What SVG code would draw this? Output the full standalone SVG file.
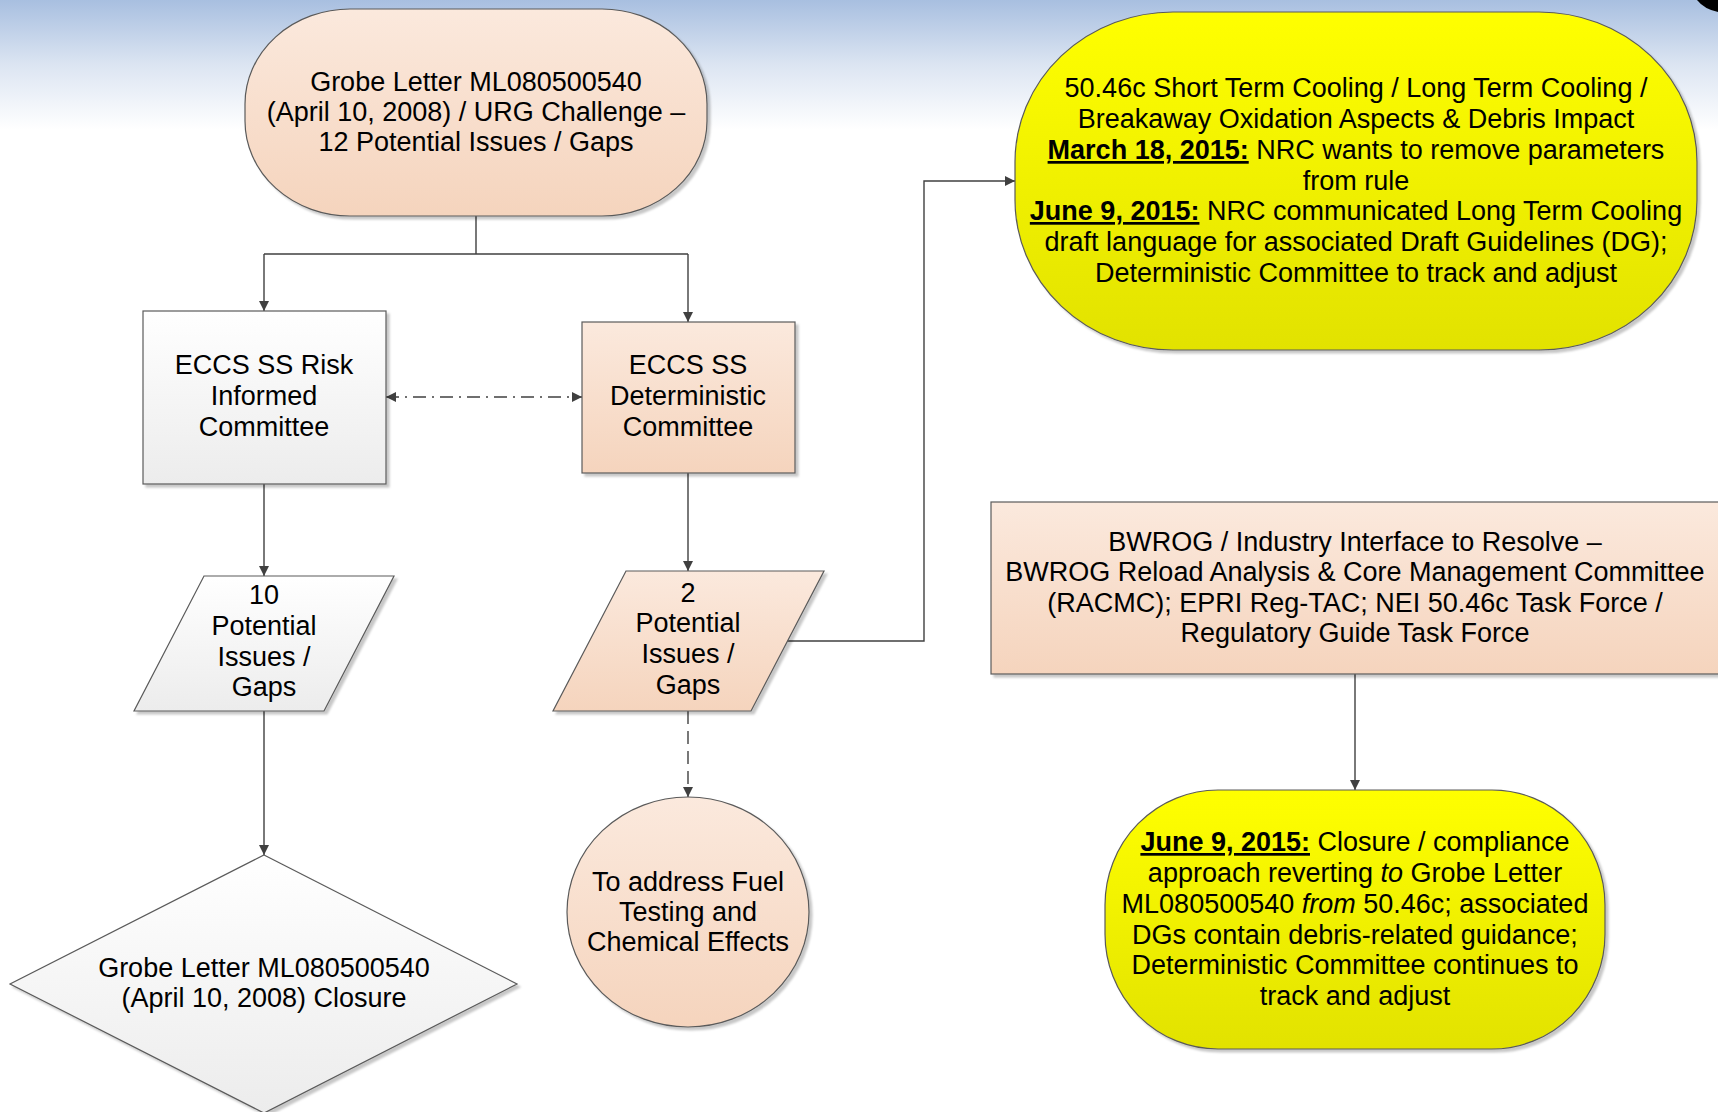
<svg xmlns="http://www.w3.org/2000/svg" width="1718" height="1112" viewBox="0 0 1718 1112">
<defs>
<linearGradient id="bg" x1="0" y1="0" x2="0" y2="1">
<stop offset="0" stop-color="#A8BFE0"/>
<stop offset="0.5" stop-color="#DCE5F2"/>
<stop offset="1" stop-color="#FFFFFF"/>
</linearGradient>
<linearGradient id="peach" x1="0" y1="0" x2="0" y2="1">
<stop offset="0" stop-color="#FBE9DD"/>
<stop offset="1" stop-color="#F5D4BD"/>
</linearGradient>
<linearGradient id="gray" x1="0" y1="0" x2="0" y2="1">
<stop offset="0" stop-color="#FFFFFF"/>
<stop offset="1" stop-color="#ECECEC"/>
</linearGradient>
<linearGradient id="yellow" x1="0" y1="0" x2="0" y2="1">
<stop offset="0" stop-color="#FFFF00"/>
<stop offset="1" stop-color="#E2E200"/>
</linearGradient>
<filter id="sh" x="-5%" y="-5%" width="115%" height="115%">
<feDropShadow dx="3" dy="3" stdDeviation="1.2" flood-color="#000" flood-opacity="0.22"/>
</filter>
<marker id="ah" viewBox="0 0 10 10" refX="10" refY="5" markerWidth="11" markerHeight="10" markerUnits="userSpaceOnUse" orient="auto-start-reverse">
<path d="M0,0 L10,5 L0,10 Z" fill="#404040"/>
</marker>
<style>
.shape{stroke:#5A5A5A;stroke-width:1.2;filter:url(#sh)}
.pe{fill:url(#peach)}
.gr{fill:url(#gray)}
.ye{fill:url(#yellow)}
.conn{fill:none;stroke:#404040;stroke-width:1.4}
.arr{marker-end:url(#ah)}
text{font-family:"Liberation Sans",Arial,sans-serif;font-size:27px;fill:#000;text-anchor:middle}
.b{font-weight:bold;text-decoration:underline}
.i{font-style:italic}
</style>
</defs>
<rect width="1718" height="1112" fill="#FFFFFF"/>
<rect width="1718" height="130" fill="url(#bg)"/>
<path d="M1697,0 Q1704,9 1718,12 V0 Z" fill="#000"/>

<g id="connectors">
<path class="conn" d="M476,216 V254 M264,254 H688"/>
<path class="conn arr" d="M264,254 V311"/>
<path class="conn arr" d="M688,254 V322"/>
<path class="conn" d="M386,397 H582" stroke-dasharray="13 6 2 6" marker-start="url(#ah)" marker-end="url(#ah)"/>
<path class="conn arr" d="M264,484 V576"/>
<path class="conn arr" d="M688,473 V571"/>
<path class="conn arr" d="M264,711 V855"/>
<path class="conn arr" d="M688,711 V797" stroke-dasharray="13 7"/>
<path class="conn arr" d="M787,641 H924 V181 H1015"/>
<path class="conn arr" d="M1355,674 V790"/>
</g>

<g id="grobe-letter">
<rect class="shape pe" x="245" y="9" width="462" height="207" rx="105" ry="95"/>
<text x="476" y="91">Grobe Letter ML080500540</text>
<text x="476" y="121">(April 10, 2008) / URG Challenge –</text>
<text x="476" y="151">12 Potential Issues / Gaps</text>
</g>

<g id="risk-informed">
<rect class="shape gr" x="143" y="311" width="243" height="173"/>
<text x="264" y="374">ECCS SS Risk</text>
<text x="264" y="405">Informed</text>
<text x="264" y="436">Committee</text>
</g>

<g id="deterministic">
<rect class="shape pe" x="582" y="322" width="213" height="151"/>
<text x="688" y="374">ECCS SS</text>
<text x="688" y="405">Deterministic</text>
<text x="688" y="436">Committee</text>
</g>

<g id="issues-10">
<polygon class="shape gr" points="204,576 394,576 324,711 134,711"/>
<text x="264" y="604">10</text>
<text x="264" y="635">Potential</text>
<text x="264" y="666">Issues /</text>
<text x="264" y="696">Gaps</text>
</g>

<g id="issues-2">
<polygon class="shape pe" points="626,571 824,571 751,711 553,711"/>
<text x="688" y="602">2</text>
<text x="688" y="632">Potential</text>
<text x="688" y="663">Issues /</text>
<text x="688" y="694">Gaps</text>
</g>

<g id="closure">
<polygon class="shape gr" points="264,855 517,984 264,1113 10,984"/>
<text x="264" y="977">Grobe Letter ML080500540</text>
<text x="264" y="1007">(April 10, 2008) Closure</text>
</g>

<g id="fuel-testing">
<ellipse class="shape pe" cx="688" cy="912" rx="121" ry="115"/>
<text x="688" y="891">To address Fuel</text>
<text x="688" y="921">Testing and</text>
<text x="688" y="951">Chemical Effects</text>
</g>

<g id="cooling">
<rect class="shape ye" x="1015" y="12" width="682" height="338" rx="158" ry="150"/>
<text x="1356" y="97">50.46c Short Term Cooling / Long Term Cooling /</text>
<text x="1356" y="128">Breakaway Oxidation Aspects &amp; Debris Impact</text>
<text x="1356" y="159"><tspan class="b">March 18, 2015:</tspan> NRC wants to remove parameters</text>
<text x="1356" y="190">from rule</text>
<text x="1356" y="220"><tspan class="b">June 9, 2015:</tspan> NRC communicated Long Term Cooling</text>
<text x="1356" y="251">draft language for associated Draft Guidelines (DG);</text>
<text x="1356" y="282">Deterministic Committee to track and adjust</text>
</g>

<g id="bwrog">
<rect class="shape pe" x="991" y="502" width="740" height="172"/>
<text x="1355" y="551">BWROG / Industry Interface to Resolve –</text>
<text x="1355" y="581">BWROG Reload Analysis &amp; Core Management Committee</text>
<text x="1355" y="612">(RACMC); EPRI Reg-TAC; NEI 50.46c Task Force /</text>
<text x="1355" y="642">Regulatory Guide Task Force</text>
</g>

<g id="closure-compliance">
<rect class="shape ye" x="1105" y="790" width="500" height="259" rx="113" ry="115"/>
<text x="1355" y="851"><tspan class="b">June 9, 2015:</tspan> Closure / compliance</text>
<text x="1355" y="882">approach reverting <tspan class="i">to</tspan> Grobe Letter</text>
<text x="1355" y="913">ML080500540 <tspan class="i">from</tspan> 50.46c; associated</text>
<text x="1355" y="944">DGs contain debris-related guidance;</text>
<text x="1355" y="974">Deterministic Committee continues to</text>
<text x="1355" y="1005">track and adjust</text>
</g>
</svg>
